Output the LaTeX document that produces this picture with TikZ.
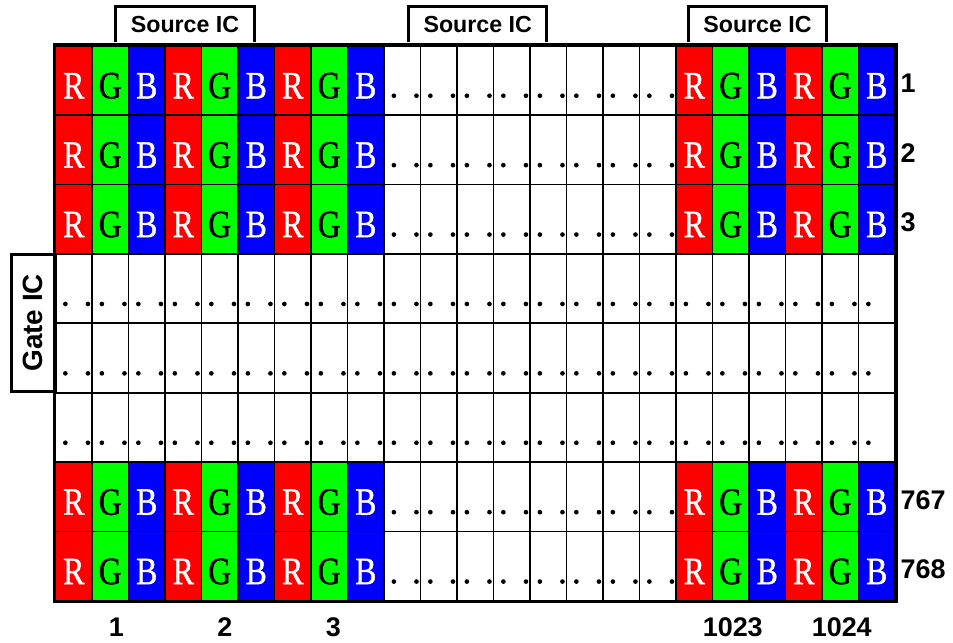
\documentclass[tikz,border=0pt]{standalone}
\usepackage{fontspec}
\setmainfont{Liberation Sans}
\newfontfamily\rgbfont[FakeStretch=0.82,FakeBold=1.2]{Liberation Serif}
\usepackage{tikz}
\usetikzlibrary{positioning,calc}
\definecolor{pxred}{RGB}{255,0,0}
\definecolor{pxgreen}{RGB}{0,255,0}
\definecolor{pxblue}{RGB}{0,0,255}

\begin{document}
\begin{tikzpicture}[x=0.03cm, y=-0.03cm,
    cell/.style={rectangle, draw=black, line width=1.6pt, inner sep=0pt, minimum width=1.095cm, minimum height=2.082cm},
    subpix/.style={cell, font=\rgbfont\fontsize{33}{33}\selectfont, text height=30.6pt, text depth=0pt},
    rsub/.style={subpix, fill=pxred, text=white},
    gsub/.style={subpix, fill=pxgreen, text=black},
    bsub/.style={subpix, fill=pxblue, text=white},
    icbox/.style={line width=2.6pt},
    srcic/.style={rectangle, minimum width=4.14cm, minimum height=1.06cm, font=\bfseries\fontsize{19.8}{20}\selectfont},
    gateic/.style={rectangle, draw, line width=2.6pt, rotate=90, minimum width=4.1cm, minimum height=1.305cm, font=\bfseries\fontsize{23.8}{24}\selectfont},
    numlabel/.style={inner sep=0pt, font=\bfseries\fontsize{23}{23}\selectfont}]
  \useasboundingbox (0,0) rectangle (953,642);
  % blank panel
  \foreach \r in {0,...,7}
    \foreach \c in {0,...,22}
      \node[cell] (w-\r-\c) at ({55.5+36.5*(\c+0.5)},{45.7+69.4*(\r+0.5)}) {};
  % RGB sub-pixels
  \foreach \r in {0,1,2,6,7}
    \foreach \p in {0,3,6,17,20}
      \foreach \s/\l [count=\i from 0] in {rsub/R,gsub/G,bsub/B}
        \node[\s] (sp-\r-\p-\l) at ({55.5+36.5*(\p+\i+0.5)},{45.7+69.4*(\r+0.5)}) {\l};
  % dots in the blank cells
  \foreach \r in {0,1,2,6,7}
    \foreach \c in {9,...,16} {
      \fill ($(w-\r-\c.north west)+(10.8,51)$) circle (2pt);
      \fill ($(w-\r-\c.north west)+(33.4,51)$) circle (2pt);
    }
  \foreach \r in {3,4,5}
    \foreach \c in {0,...,22} {
      \fill ($(w-\r-\c.north west)+(10.8,51)$) circle (2pt);
      \ifnum\c<22 \fill ($(w-\r-\c.north west)+(33.4,51)$) circle (2pt); \fi
    }
  \draw[line width=2.8pt] (w-0-0.north west) rectangle (w-7-22.south east);
  % driver ICs
  \foreach \x [count=\n] in {185,477.7,757.5} {
    \node[srcic] (src-\n) at (\x,24.4) {Source IC};
    \draw[icbox] (src-\n.south west) -- (src-\n.north west) -- (src-\n.north east) -- (src-\n.south east);
  }
  \node[gateic] (gate) at (33.25,322.7) {Gate IC};
  % line and column numbers
  \foreach \r/\n in {0/1,1/2,2/3,6/767,7/768}
    \node[numlabel, anchor=west] (row-\n) at ($(w-\r-22.east)+(4.5,3)$) {\n};
  \foreach \c/\n/\dx in {1/1/6,4/2/5,7/3/4,18/1023/2,21/1024/1.5}
    \node[numlabel] (col-\n) at ($(w-7-\c.south)+(\dx,25)$) {\n};
\end{tikzpicture}
\end{document}
